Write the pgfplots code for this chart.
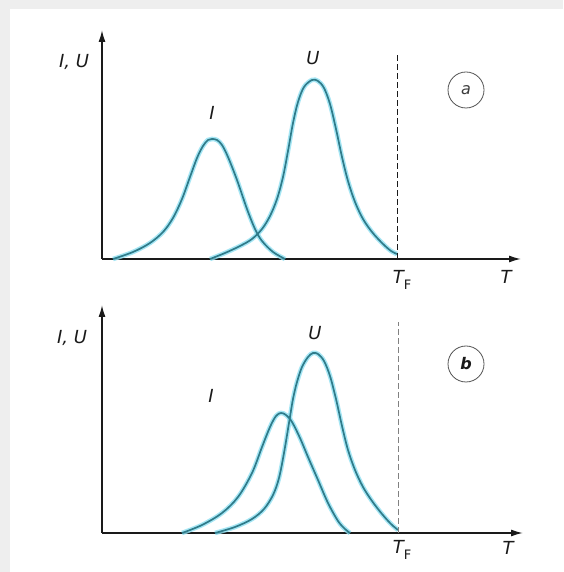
\documentclass[border=0pt]{standalone}
\usepackage{pgfplots}
\pgfplotsset{compat=1.18}
\usepackage{fontspec}
\setmainfont{DejaVu Sans}
\usetikzlibrary{arrows.meta}

\definecolor{bgframe}{HTML}{EEEEEE}
\definecolor{glow}{HTML}{8FE0F2}
\definecolor{curve}{HTML}{2F7B8A}
\definecolor{ink}{HTML}{1A1A1A}

\pgfplotsset{
  diagram/.style={
    x=1pt, y=1pt, axis lines=left, ticks=none, clip=false,
    axis line style={line width=1.5pt, color=ink, -{Latex[length=12pt,width=7pt]}},
    ymin=0,
  },
  glowline/.style={glow, line width=4.6pt, smooth, tension=0.55, opacity=0.8, no markers},
  coreline/.style={curve, line width=1.7pt, smooth, tension=0.55, no markers},
}
\tikzset{lbl/.style={font=\fontsize{18}{20}\selectfont\itshape, text=ink}}
\newcommand{\TF}{{\itshape T}\raisebox{-6pt}{\upshape\fontsize{13}{13}\selectfont F}}

% peak profiles: T (pt) versus signal height above the T axis
\newcommand{\Ia}{(113,0) (133,7) (150,16) (163,27) (173,41) (182,60) (190,82) (197,101) (203,113) (208,119) (212,120) (217,119) (222,114) (228,102) (237,79) (247,50) (255,30) (262,18) (273,7) (285,0)}
\newcommand{\Ua}{(210,0) (225,6) (240,13) (252,20) (262,30) (270,43) (277,60) (283,82) (288,108) (293,136) (298,157) (304,172) (312,179) (318,178) (324,171) (330,155) (336,130) (342,102) (348,78) (355,57) (363,40) (372,27) (382,16) (391,8) (397,5)}
\newcommand{\Ib}{(182,0) (202,8) (222,20) (238,36) (252,60) (262,86) (270,106) (276,117) (281,120) (286,118) (292,111) (300,95) (308,76) (318,53) (328,30) (338,12) (345,4) (350,0)}
\newcommand{\Ub}{(215,0) (235,6) (252,14) (264,24) (273,38) (279,55) (284,80) (289,110) (293,134) (297,151) (302,166) (308,176) (313,180) (318,179) (324,172) (330,157) (336,134) (342,107) (348,83) (355,63) (363,46) (372,32) (382,19) (391,9) (398,3)}

\begin{document}
\begin{tikzpicture}
  % page frame
  \fill[bgframe] (0,0) rectangle (563pt,572pt);
  \fill[white] (10pt,0) rectangle (563pt,563pt);

  % (a) separated peaks
  \begin{axis}[diagram, at={(102pt,313pt)}, anchor=south west,
      xmin=102, xmax=521, ymax=229]
    \addplot[glowline] coordinates {\Ia};
    \addplot[glowline] coordinates {\Ua};
    \addplot[coreline] coordinates {\Ia};
    \addplot[coreline] coordinates {\Ua};
    \draw[ink, line width=1.5pt, dash pattern=on 6pt off 3pt] (axis cs:397.5,0) -- (axis cs:397.5,204);
    \node[lbl] at (axis cs:74,197) {I, U};
    \node[lbl] at (axis cs:313,201) {U};
    \node[lbl] at (axis cs:212,146) {I};
    \draw[ink!75, line width=0.8pt] (axis cs:466,169) circle[radius=18pt];
    \node[font=\fontsize{16}{17}\selectfont\itshape, text=ink!85] at (axis cs:466,169) {a};
    \node[lbl] at (axis cs:402,-21) {\TF};
    \node[lbl] at (axis cs:506,-18) {T};
  \end{axis}

  % (b) overlapping peaks
  \begin{axis}[diagram, at={(102pt,39pt)}, anchor=south west,
      xmin=102, xmax=523, ymax=228]
    \addplot[glowline] coordinates {\Ib};
    \addplot[glowline] coordinates {\Ub};
    \addplot[coreline] coordinates {\Ib};
    \addplot[coreline] coordinates {\Ub};
    \draw[ink!55, line width=0.9pt, dash pattern=on 6pt off 3pt] (axis cs:398.6,0) -- (axis cs:398.6,211);
    \node[lbl] at (axis cs:72,195) {I, U};
    \node[lbl] at (axis cs:315,200) {U};
    \node[lbl] at (axis cs:211,137) {I};
    \draw[ink!75, line width=0.8pt] (axis cs:466,169) circle[radius=18pt];
    \node[font=\fontsize{16}{17}\selectfont\bfseries\itshape, text=ink] at (axis cs:466,169) {b};
    \node[lbl] at (axis cs:402,-17) {\TF};
    \node[lbl] at (axis cs:508,-15) {T};
  \end{axis}
\end{tikzpicture}
\end{document}
